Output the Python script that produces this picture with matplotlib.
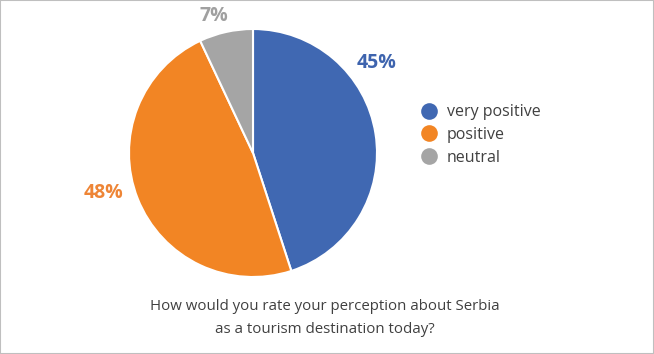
import numpy as np
import matplotlib
matplotlib.use("Agg")
import matplotlib.pyplot as plt
from matplotlib.lines import Line2D
from matplotlib.patches import Rectangle

# data
categories = ["very positive", "positive", "neutral"]
shares = [45, 48, 7]
colors = ["#4068B2", "#F28524", "#A5A5A5"]
label_colors = ["#3E64AE", "#EE8536", "#A0A0A0"]
title = "How would you rate your perception about Serbia\nas a tourism destination today?"

# label placement (angle in degrees, distance in radii)
label_angles = [36, 195, 106]
label_dist = [1.23, 1.25, 1.15]

plt.rcParams['font.family'] = ['Open Sans', 'DejaVu Sans']

W, H = 654, 354
fig = plt.figure(figsize=(W / 100, H / 100), dpi=100)

# pie axes, square in pixels
cx, cy, r = 253, 153, 124
ax = fig.add_axes([(cx - r) / W, (H - cy - r) / H, 2 * r / W, 2 * r / H])
wedges, _ = ax.pie(shares, colors=colors, startangle=90, counterclock=False,
                   radius=1, wedgeprops=dict(edgecolor="white", linewidth=1.5))
ax.set_xlim(-1, 1)
ax.set_ylim(-1, 1)
ax.set_aspect("equal")
ax.axis("off")

for s, a, d, c in zip(shares, label_angles, label_dist, label_colors):
    t = np.deg2rad(a)
    ax.text(d * np.cos(t), d * np.sin(t), f"{s}%", color=c, fontsize=14,
            fontweight="bold", ha="center", va="center")

handles = [Line2D([], [], marker="o", linestyle="none", markersize=12,
                  markerfacecolor=w.get_facecolor(), markeredgecolor="none")
           for w in wedges]
fig.legend(handles, categories, loc="upper left", bbox_to_anchor=(405 / W, 1 - 90 / H),
           frameon=False, fontsize=11.5, labelcolor="#404040", handletextpad=0.5,
           labelspacing=0.42, handlelength=1.2)

fig.text(325 / W, 1 - 318 / H, title, ha="center", va="center", fontsize=10.8,
         color="#404040", linespacing=1.7)

fig.patches.append(Rectangle((0, 0), 1, 1, transform=fig.transFigure, fill=False,
                             edgecolor="#BFBFBF", linewidth=1.5))

fig.savefig("out.png", dpi=100)
